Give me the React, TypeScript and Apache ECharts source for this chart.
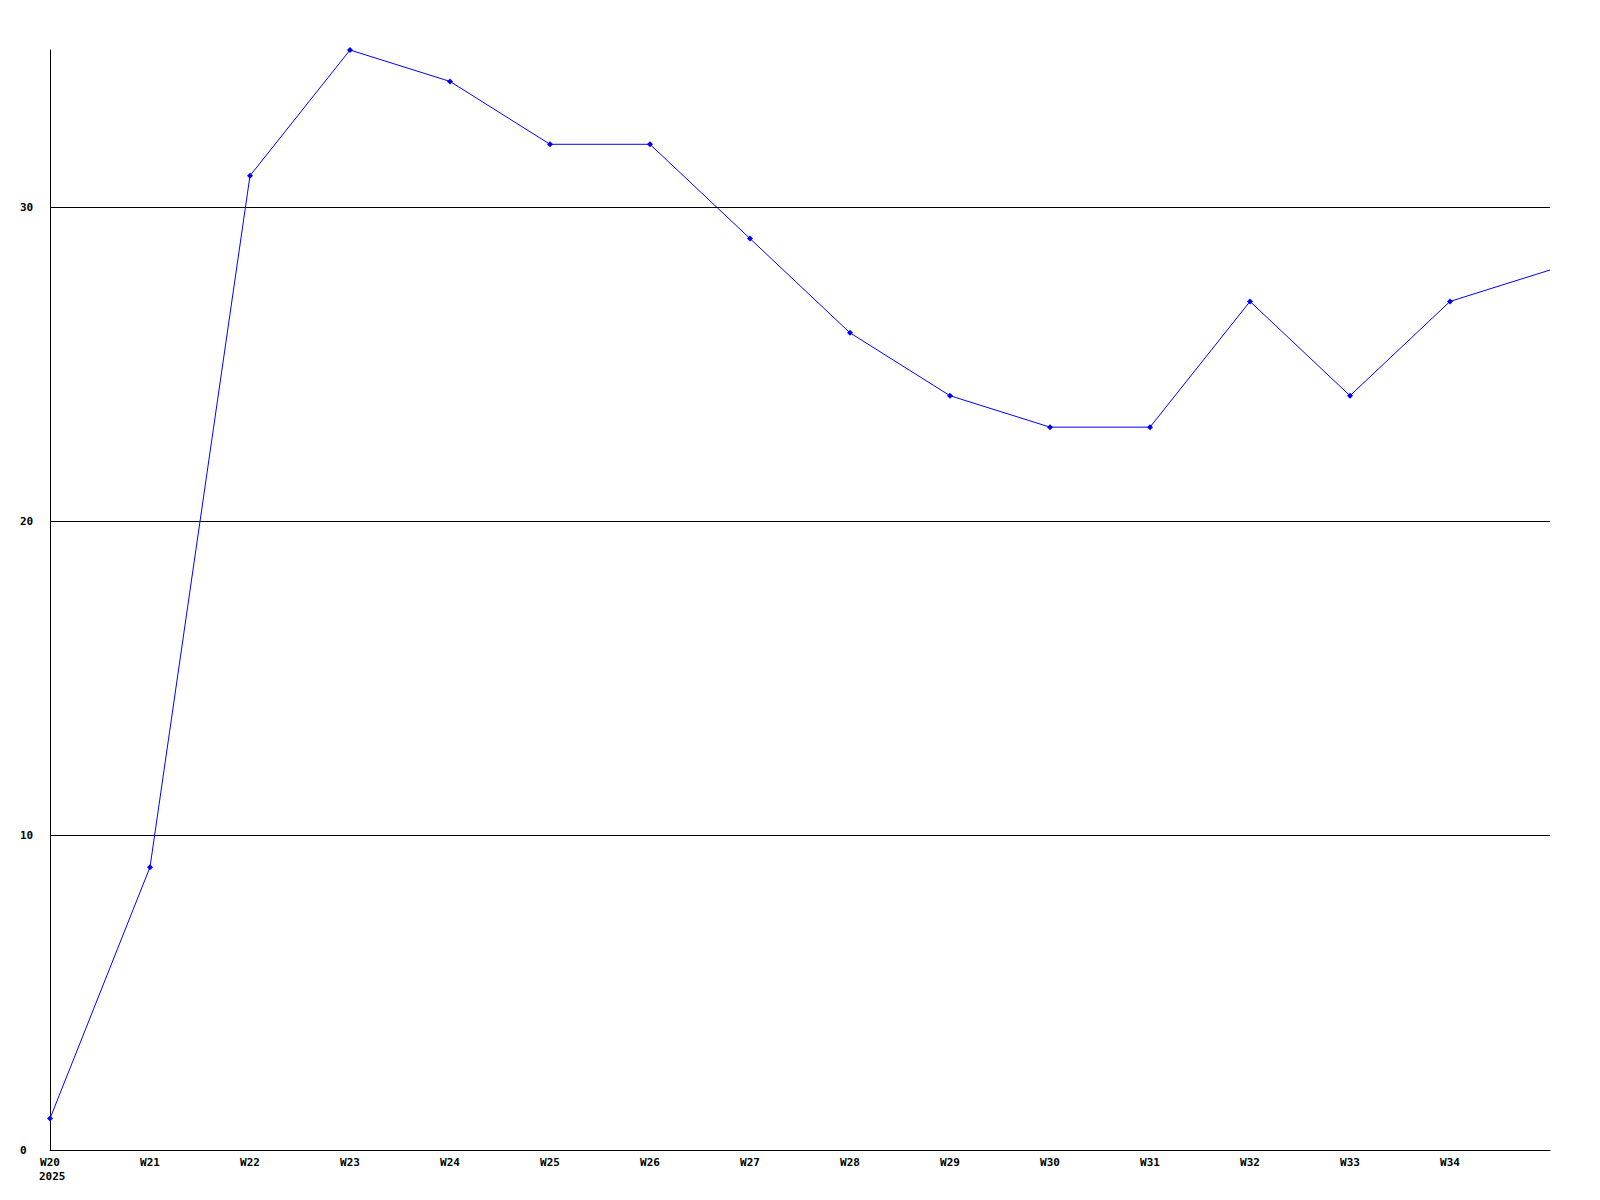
import React, { useEffect, useRef } from "react";
import * as echarts from "echarts";

const weeks = ["W20", "W21", "W22", "W23", "W24", "W25", "W26", "W27", "W28", "W29", "W30", "W31", "W32", "W33", "W34", "W35"];
const values = [1, 9, 31, 35, 34, 32, 32, 29, 26, 24, 23, 23, 27, 24, 27, 28];
const yearLabel = "2025";
const hiddenLabel = "W35";

const FONT = "'DejaVu Sans Mono', monospace";

export default function App() {
  const ref = useRef<HTMLDivElement>(null);
  useEffect(() => {
    if (!ref.current) return;
    const chart = echarts.init(ref.current, null, { renderer: "svg" });
    chart.setOption({
      animation: false,
      backgroundColor: "#ffffff",
      grid: { left: 50, right: 50, top: 50, bottom: 50, containLabel: false },
      xAxis: {
        type: "category",
        data: weeks,
        boundaryGap: false,
        axisLine: { show: true, lineStyle: { color: "#000", width: 1 } },
        axisTick: { show: false },
        splitLine: { show: false },
        axisLabel: {
          interval: 0,
          margin: 7,
          color: "#000",
          fontFamily: FONT,
          fontWeight: "bold",
          fontSize: 11,
          formatter: (v: string) => (v === hiddenLabel ? "" : v),
        },
      },
      yAxis: {
        type: "value",
        min: 0,
        max: 35,
        interval: 10,
        axisLine: { show: true, lineStyle: { color: "#000", width: 1 } },
        axisTick: { show: false },
        splitLine: { show: true, showMaxLine: false, lineStyle: { color: "#000", width: 1 } },
        axisLabel: {
          showMaxLabel: false,
          align: "left",
          margin: 30,
          color: "#000",
          fontFamily: FONT,
          fontWeight: "bold",
          fontSize: 11,
        },
      },
      graphic: [
        {
          type: "text",
          left: 39,
          top: 1171,
          style: {
            text: yearLabel,
            fill: "#000",
            font: `bold 11px ${FONT}`,
          },
        },
      ],
      series: [
        {
          type: "line",
          data: values.map((v, i) =>
            i === values.length - 1 ? { value: v, symbol: "none" } : v
          ),
          lineStyle: { color: "#0000ff", width: 1 },
          itemStyle: { color: "#0000ff" },
          symbol: "diamond",
          symbolSize: 6,
          showSymbol: true,
          clip: true,
        },
      ],
    });
    return () => chart.dispose();
  }, []);
  return (
    <div
      ref={ref}
      style={{ position: "absolute", left: 0, top: 0, width: 1600, height: 1200 }}
    />
  );
}
